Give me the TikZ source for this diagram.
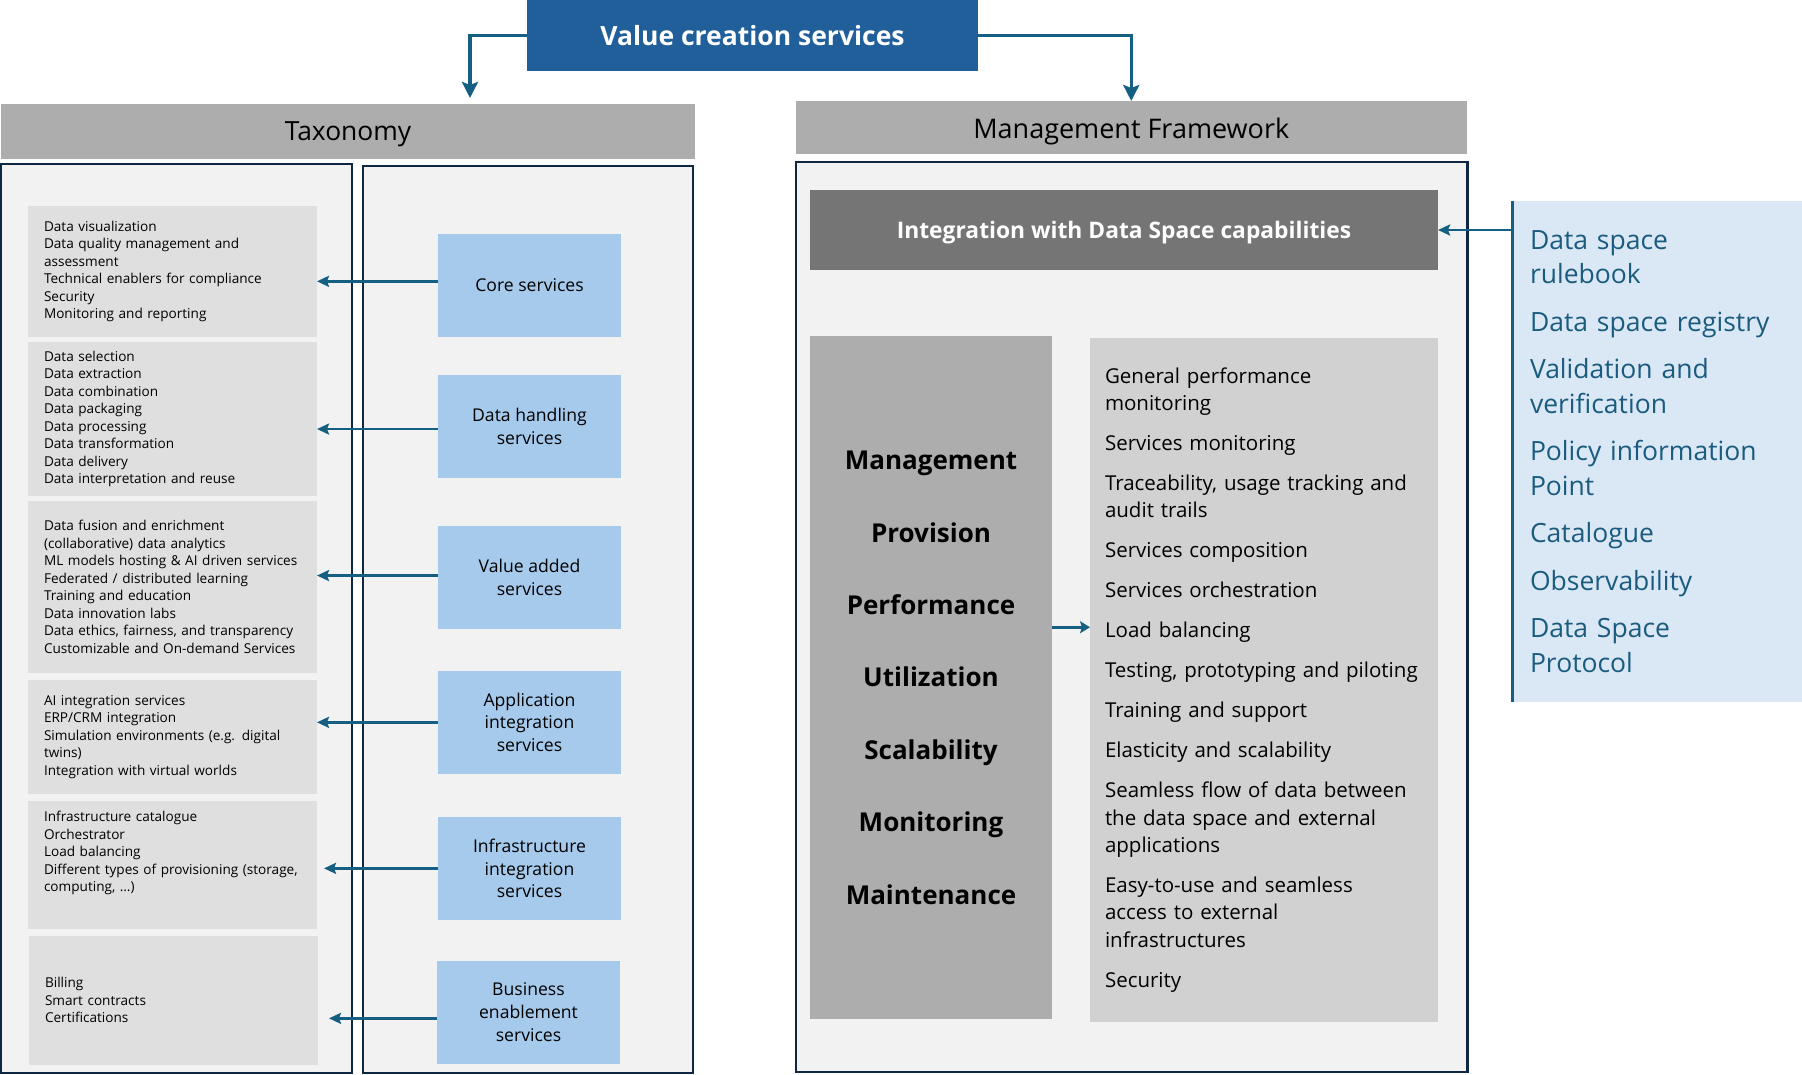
\documentclass[tikz,border=0pt]{standalone}
\usepackage{fontspec}
\setmainfont{Open Sans}
\usetikzlibrary{arrows.meta}
\definecolor{vcsblue}{HTML}{215F9A}
\definecolor{lineblue}{HTML}{156082}
\definecolor{navy}{HTML}{0E2841}
\definecolor{framefill}{HTML}{F2F2F2}
\definecolor{hdrgray}{HTML}{ADADAD}
\definecolor{descgray}{HTML}{DFDFDF}
\definecolor{svcblue}{HTML}{A6CAEC}
\definecolor{integgray}{HTML}{757575}
\definecolor{colgray}{HTML}{ADADAD}
\definecolor{itemgray}{HTML}{D1D1D1}
\definecolor{listblue}{HTML}{DAE8F6}
\definecolor{listtext}{HTML}{1A5B7E}
\tikzset{
  nw/.style={anchor=north west, inner sep=0pt, outer sep=0pt},
  header/.style={nw, fill=hdrgray, text=black, text depth=0pt},
  frame/.style={nw, fill=framefill, draw=navy, line width=2.5pt},
  desc/.style={nw, fill=descgray, align=left, text width=257pt, inner xsep=16pt,
    minimum width=289pt, font=\fontsize{13.6}{17.5}\selectfont},
  svc/.style={nw, fill=svcblue, align=center, minimum width=183pt, minimum height=102.7pt,
    font=\fontsize{17.6}{22.8}\selectfont},
  topconn/.style={draw=lineblue, line width=3.5pt, -{Stealth[length=16pt,width=16pt,inset=3pt]}},
  conn/.style={draw=lineblue, line width=2.5pt, -{Stealth[length=12pt,width=11pt,inset=2pt]}},
  smallconn/.style={draw=lineblue, line width=2.5pt, -{Stealth[length=10pt,width=12pt,inset=2pt]}}
}
\begin{document}
\begin{tikzpicture}[x=1pt,y=-1pt]
\useasboundingbox (0,0) rectangle (1802,1075);
\fill[white] (0,0) rectangle (1802,1075);

% top box
\node[nw, fill=vcsblue, minimum width=451pt, minimum height=71pt, text=white, text depth=0pt,
  font=\fontsize{26.5}{30}\selectfont\bfseries] (vcs) at (527,0) {Value creation services};

% headers
\node[header, minimum width=694pt, minimum height=55pt, font=\fontsize{26.4}{30}\selectfont] (tax) at (1,104) {Taxonomy};
\node[header, minimum width=670.5pt, minimum height=53.5pt, font=\fontsize{27}{30}\selectfont] (mgmt) at (796,101) {Management Framework};

\coordinate (taxin) at (470,98);
\draw[topconn] (vcs.west) -| (taxin);
\draw[topconn] (vcs.east) -| (mgmt.north);

% taxonomy frames
\node[frame, minimum width=351pt, minimum height=909pt] (descframe) at (1,164) {};
\node[frame, minimum width=330pt, minimum height=907pt] (svcframe) at (363,166) {};

% description boxes
\node[desc, minimum height=130.7pt] (dcore) at (28,206) {Data visualization\\Data quality management and\\assessment\\Technical enablers for compliance\\Security\\Monitoring and reporting};
\node[desc, minimum height=153.7pt] (ddh) at (28,342) {Data selection\\Data extraction\\Data combination\\Data packaging\\Data processing\\Data transformation\\Data delivery\\Data interpretation and reuse};
\node[desc, minimum height=171.7pt] (dva) at (28,501) {Data fusion and enrichment\\(collaborative) data analytics\\ML models hosting \& AI driven services\\Federated / distributed learning\\Training and education\\Data innovation labs\\Data ethics, fairness, and transparency\\Customizable and On-demand Services};
\node[desc, minimum height=113.7pt] (dapp) at (28,680) {AI integration services\\ERP/CRM integration\\Simulation environments (e.g. digital\\twins)\\Integration with virtual worlds};
\node[desc, minimum height=127.7pt] (dinf) at (28,801) {Infrastructure catalogue\\Orchestrator\\Load balancing\\Different types of provisioning (storage,\\computing, …)\\[9pt]\mbox{}};
\node[desc, minimum height=128.7pt] (dbus) at (29,936) {Billing\\Smart contracts\\Certifications};

% service boxes
\node[svc] (score) at (438,234) {Core services};
\node[svc] (sdh) at (438,375) {Data handling\\services};
\node[svc] (sva) at (438,526) {Value added\\services};
\node[svc] (sapp) at (438,671) {Application\\integration\\services};
\node[svc] (sinf) at (438,817) {Infrastructure\\integration\\services};
\node[svc] (sbus) at (437,961) {Business\\enablement\\services};

\draw[conn] ([yshift=4pt]score.west) -- ([yshift=4pt]score.west -| dcore.east);
\draw[conn] ([yshift=-2.7pt]sdh.west) -- ([yshift=-2.7pt]sdh.west -| ddh.east);
\draw[conn] ([yshift=1.8pt]sva.west) -- ([yshift=1.8pt]sva.west -| dva.east);
\draw[conn] (sapp.west) -- (sapp.west -| dapp.east);
\draw[conn] (sinf.west) -- ([xshift=7pt]sinf.west -| dinf.east);
\draw[conn] ([yshift=-6pt]sbus.west) -- ([yshift=-6pt,xshift=11pt]sbus.west -| dbus.east);

% management framework
\node[frame, minimum width=671.5pt, minimum height=910pt] (mframe) at (796,162) {};
\node[nw, fill=integgray, minimum width=628pt, minimum height=80pt, text=white, text depth=0pt,
  font=\fontsize{22.8}{26}\selectfont\bfseries] (integ) at (810,190) {Integration with Data Space capabilities};
\node[nw, fill=colgray, minimum width=242pt, minimum height=683.3pt, align=center,
  font=\fontsize{26}{72.4}\selectfont\bfseries] (lcol) at (810,336)
  {Management\\Provision\\Performance\\Utilization\\Scalability\\Monitoring\\Maintenance};
\node[nw, fill=itemgray, minimum width=348pt, minimum height=683.7pt, text width=318pt,
  inner xsep=15pt, align=left, font=\fontsize{20.5}{27.3}\selectfont] (items) at (1090,338)
  {General performance\\monitoring\\[12.7pt]Services monitoring\\[12.7pt]Traceability, usage tracking and\\audit trails\\[12.7pt]Services composition\\[12.7pt]Services orchestration\\[12.7pt]Load balancing\\[12.7pt]Testing, prototyping and piloting\\[12.7pt]Training and support\\[12.7pt]Elasticity and scalability\\[12.7pt]Seamless flow of data between\\the data space and external\\applications\\[12.7pt]Easy-to-use and seamless\\access to external\\infrastructures\\[12.7pt]Security};
\draw[smallconn] ([yshift=50.4pt]lcol.east) -- ([yshift=50.4pt]lcol.east -| items.west);

% data space list
\node[nw, fill=listblue, minimum width=290pt, minimum height=501pt, text width=272pt,
  inner xsep=18pt, align=left, text=listtext, font=\fontsize{26.5}{34.5}\selectfont] (dsl) at (1512,201)
  {Data space\\rulebook\\[13pt]Data space registry\\[13pt]Validation and\\verification\\[13pt]Policy information\\Point\\[13pt]Catalogue\\[13pt]Observability\\[13pt]Data Space\\Protocol};
\draw[draw=lineblue, line width=3pt] (dsl.north west) -- (dsl.south west);
\draw[conn] (dsl.west |- integ.east) -- (integ.east);
\end{tikzpicture}
\end{document}
